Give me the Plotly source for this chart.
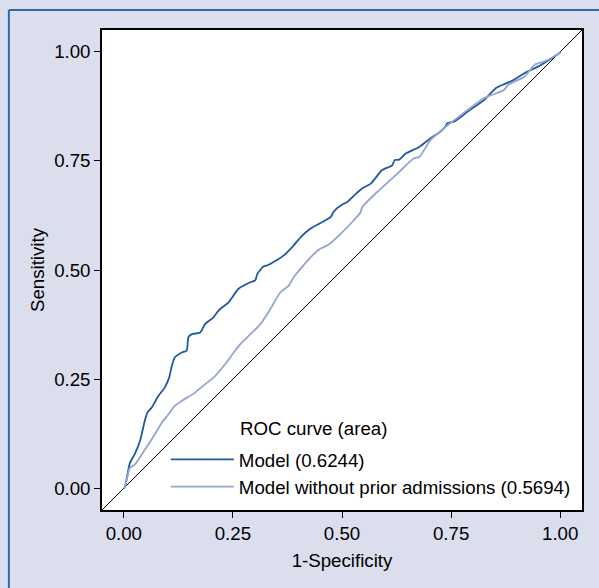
import plotly.graph_objects as go

# Model (0.6244): 1-specificity / sensitivity
model_fpr = [0.0, 0.002, 0.0085, 0.014, 0.025, 0.037, 0.048, 0.054, 0.064, 0.079, 0.094, 0.104,
             0.110, 0.117, 0.133, 0.144, 0.148, 0.156, 0.175, 0.186, 0.205, 0.217, 0.240, 0.263,
             0.290, 0.301, 0.306, 0.320, 0.332, 0.366, 0.389, 0.405, 0.428, 0.462, 0.474, 0.481,
             0.497, 0.512, 0.531, 0.546, 0.566, 0.592, 0.615, 0.621, 0.631, 0.646, 0.677, 0.703,
             0.723, 0.738, 0.742, 0.757, 0.788, 0.826, 0.853, 0.872, 0.891, 0.918, 0.956, 0.998, 1.0]
model_tpr = [0.0, 0.001, 0.032, 0.058, 0.078, 0.108, 0.154, 0.173, 0.185, 0.211, 0.231, 0.254,
             0.280, 0.300, 0.311, 0.315, 0.346, 0.353, 0.357, 0.376, 0.391, 0.407, 0.426, 0.457,
             0.472, 0.476, 0.491, 0.508, 0.512, 0.533, 0.556, 0.575, 0.595, 0.614, 0.621, 0.634,
             0.648, 0.656, 0.674, 0.687, 0.698, 0.729, 0.740, 0.752, 0.753, 0.767, 0.782, 0.802,
             0.815, 0.830, 0.837, 0.840, 0.863, 0.890, 0.917, 0.926, 0.934, 0.951, 0.970, 0.997, 1.0]

# Model without prior admissions (0.5694)
noprior_fpr = [0.0, 0.002, 0.014, 0.025, 0.041, 0.056, 0.071, 0.087, 0.102, 0.117, 0.133, 0.163,
               0.186, 0.209, 0.232, 0.255, 0.267, 0.313, 0.336, 0.359, 0.378, 0.389, 0.428, 0.451,
               0.466, 0.497, 0.527, 0.543, 0.546, 0.581, 0.627, 0.665, 0.677, 0.703, 0.734, 0.753,
               0.788, 0.826, 0.872, 0.880, 0.918, 0.941, 0.964, 0.998, 1.0]
noprior_tpr = [0.0, 0.001, 0.047, 0.054, 0.077, 0.100, 0.123, 0.150, 0.169, 0.189, 0.200, 0.219,
               0.238, 0.257, 0.284, 0.315, 0.330, 0.376, 0.411, 0.449, 0.464, 0.483, 0.529, 0.549,
               0.556, 0.583, 0.614, 0.633, 0.644, 0.679, 0.721, 0.756, 0.759, 0.798, 0.825, 0.840,
               0.867, 0.894, 0.913, 0.924, 0.943, 0.970, 0.978, 0.997, 1.0]

reference_line = [-0.05, 1.05]
tick_vals = [0, 0.25, 0.5, 0.75, 1.0]
tick_text = ["0.00", "0.25", "0.50", "0.75", "1.00"]

DARK = "#1d5a9e"
LIGHT = "#93a4d0"
FONT = "Liberation Sans, Arial, sans-serif"
FS = 18.7


def F(size=FS):
    return dict(family=FONT, size=size, color="black")


fig = go.Figure()
fig.add_trace(go.Scatter(x=reference_line, y=reference_line, mode="lines",
                         line=dict(color="black", width=1), showlegend=False, hoverinfo="skip"))
fig.add_trace(go.Scatter(x=model_fpr, y=model_tpr, mode="lines", name="Model (0.6244)",
                         line=dict(color=DARK, width=1.8, shape="spline", smoothing=0.6)))
fig.add_trace(go.Scatter(x=noprior_fpr, y=noprior_tpr, mode="lines",
                         name="Model without prior admissions (0.5694)",
                         line=dict(color=LIGHT, width=1.8, shape="spline", smoothing=0.6)))

axis_common = dict(range=[-0.05, 1.05], tickvals=tick_vals, ticktext=tick_text,
                   showgrid=False, zeroline=False, showline=True, mirror=True,
                   linecolor="black", linewidth=1.5, ticks="outside", ticklen=6,
                   tickcolor="black", tickwidth=1.2, tickfont=F())

fig.update_xaxes(**axis_common, title=dict(text="1-Specificity", standoff=11, font=F()))
fig.update_yaxes(**axis_common, title=dict(text="Sensitivity", standoff=5, font=F()))

fig.add_annotation(text="ROC curve (area)", xref="paper", yref="paper", x=0.283, y=0.169,
                   xanchor="left", yanchor="middle", showarrow=False, font=F())

# outer frame lines (top & left)
fig.add_shape(type="line", xref="paper", yref="paper", x0=-0.194, x1=1.1, y0=1.0417, y1=1.0417,
              line=dict(color="#2f6aae", width=2))
fig.add_shape(type="line", xref="paper", yref="paper", x0=-0.194, x1=-0.194, y0=1.0417, y1=-0.2,
              line=dict(color="#2f6aae", width=2))

fig.update_layout(
    width=599, height=588,
    margin=dict(l=102, r=17, t=30, b=78, autoexpand=False),
    paper_bgcolor="#dadeed", plot_bgcolor="white",
    font=F(),
    legend=dict(x=0.133, y=0.009, xanchor="left", yanchor="bottom",
                bgcolor="rgba(0,0,0,0)", itemwidth=63, tracegroupgap=0, font=F()),
)

fig.write_html("out.html", config={"displayModeBar": False},
               post_script="document.body.style.margin='0';")
